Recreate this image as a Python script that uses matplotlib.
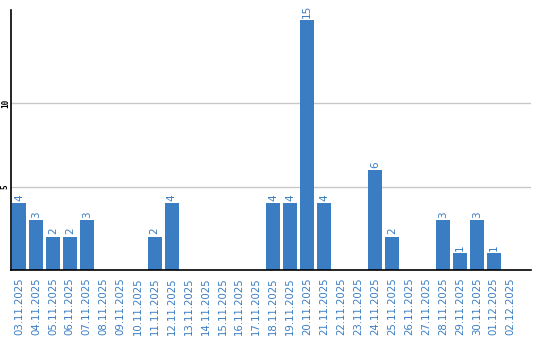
import matplotlib
matplotlib.use("Agg")
import matplotlib.pyplot as plt

# daily counts, 03.11.2025 .. 02.12.2025
dates = ['03.11.2025', '04.11.2025', '05.11.2025', '06.11.2025', '07.11.2025',
         '08.11.2025', '09.11.2025', '10.11.2025', '11.11.2025', '12.11.2025',
         '13.11.2025', '14.11.2025', '15.11.2025', '16.11.2025', '17.11.2025',
         '18.11.2025', '19.11.2025', '20.11.2025', '21.11.2025', '22.11.2025',
         '23.11.2025', '24.11.2025', '25.11.2025', '26.11.2025', '27.11.2025',
         '28.11.2025', '29.11.2025', '30.11.2025', '01.12.2025', '02.12.2025']
counts = [4, 3, 2, 2, 3, 0, 0, 0, 2, 4,
          0, 0, 0, 0, 0, 4, 4, 15, 4, 0,
          0, 6, 2, 0, 0, 3, 1, 3, 1, 0]

blue = '#3a7dc3'

fig = plt.figure(figsize=(5.4, 3.4), dpi=100)
ax = fig.add_axes([11 / 540, 70 / 340, 520 / 540, 260 / 340])

x = list(range(len(dates)))
ax.bar(x, counts, width=0.82, color=blue, zorder=2)

for xi, v in zip(x, counts):
    if v > 0:
        ax.text(xi, v + 0.15, str(v), rotation=90, ha='center', va='bottom',
                color=blue, fontsize=7.5)

ax.set_xlim(-0.47, 30.2)
ax.set_ylim(0, 15.6)
ax.set_xticks(x)
ax.set_xticklabels(dates, rotation=90, color=blue, fontsize=7.3)
ax.set_yticks([5, 10])
ax.set_yticklabels(['5', '10'], rotation=90, va='center', fontsize=5.5,
                   fontweight='bold', family='DejaVu Sans Mono')
ax.tick_params(axis='both', length=0)
ax.tick_params(axis='x', pad=5)
ax.tick_params(axis='y', pad=0.8)
ax.yaxis.grid(True, color='#c8c8c8', linewidth=1, zorder=0)
ax.set_axisbelow(True)

for side in ['top', 'right']:
    ax.spines[side].set_visible(False)
ax.spines['left'].set_color('black')
ax.spines['bottom'].set_color('black')
ax.spines['left'].set_linewidth(1.2)
ax.spines['bottom'].set_linewidth(1.2)

fig.savefig('out.png', dpi=100)
